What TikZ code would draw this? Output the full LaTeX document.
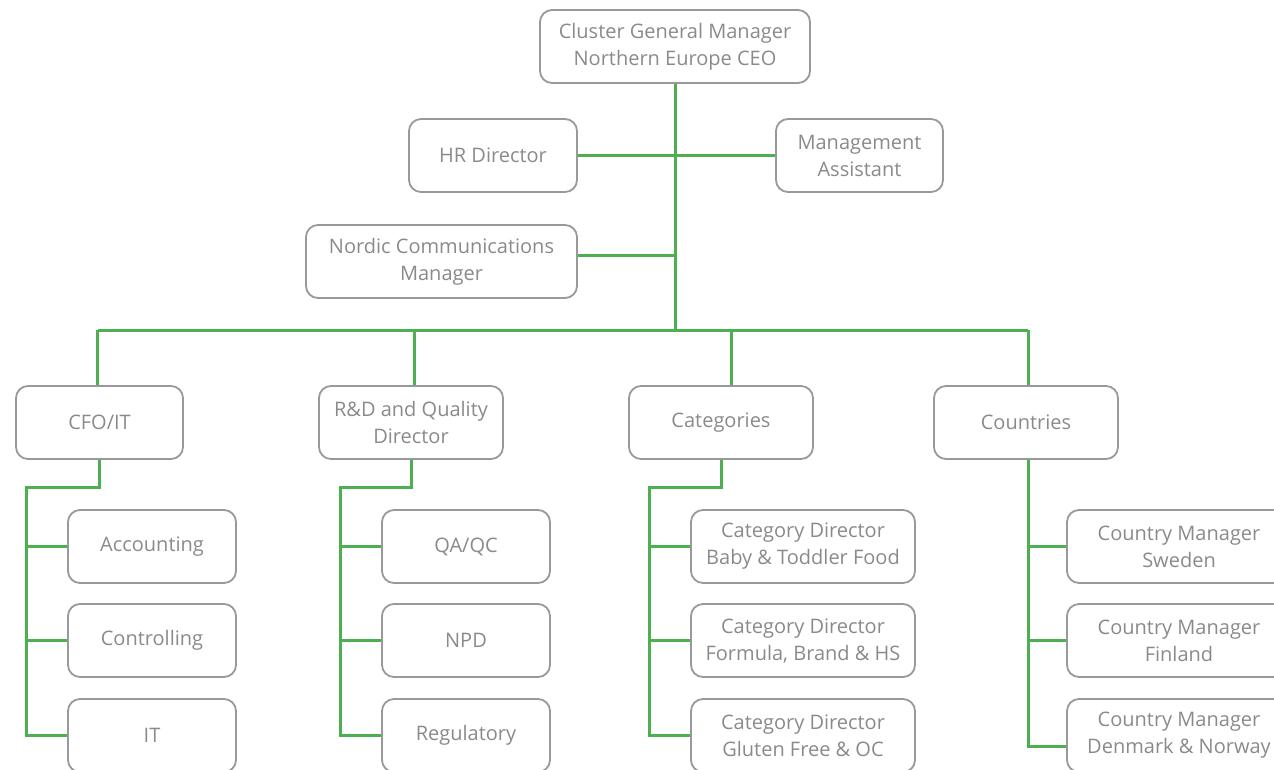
\documentclass[tikz,border=0pt]{standalone}
\usepackage{fontspec}
\setmainfont{Open Sans}
\definecolor{boxgray}{HTML}{999999}
\definecolor{textgray}{HTML}{8A8A8A}
\definecolor{linegreen}{HTML}{4DAF4F}

\begin{document}
\begin{tikzpicture}[x=1pt,y=-1pt,
    every node/.style={font=\fontsize{20}{27}\selectfont, text=textgray},
    box/.style={draw=boxgray, line width=1.8pt, rounded corners=12pt, minimum height=73pt, align=center, inner sep=0pt},
    link/.style={draw=linegreen, line width=3pt}]
    % Page frame
    \useasboundingbox (0,0) rectangle (1274,769);
    \clip (0,0) rectangle (1274,769);

    % Top of the chart
    \node[box, minimum width=270pt] (ceo) at (675,46.5) {Cluster General Manager\\Northern Europe CEO};
    \node[box, minimum width=168pt] (hr) at (493,155.5) {HR Director};
    \node[box, minimum width=167pt] (ma) at (859.5,155.5) {Management\\Assistant};
    \node[box, minimum width=271pt] (ncm) at (441.5,261.5) {Nordic Communications\\Manager};

    % Bus to the four departments
    \coordinate (bus) at (676,330);

    % Departments
    \node[box, minimum width=167pt] (cfo) at (99.5,422.5) {CFO/IT};
    \node[box, minimum width=184pt] (rnd) at (411,422.5) {R\&D and Quality\\Director};
    \node[box, minimum width=184pt] (cat) at (721,422.5) {Categories};
    \node[box, minimum width=184pt] (cty) at (1026,422.5) {Countries};

    % Units below each department
    \node[box, minimum width=168pt] (acc) at (152,546.5) {Accounting};
    \node[box, minimum width=168pt] (ctl) at (152,640.5) {Controlling};
    \node[box, minimum width=168pt] (it)  at (152,735.5) {IT};

    \node[box, minimum width=168pt] (qa)  at (466,546.5) {QA/QC};
    \node[box, minimum width=168pt] (npd) at (466,640.5) {NPD};
    \node[box, minimum width=168pt] (reg) at (466,735.5) {Regulatory};

    \node[box, minimum width=224pt] (cdb) at (803,546.5) {Category Director\\Baby \& Toddler Food};
    \node[box, minimum width=224pt] (cdf) at (803,640.5) {Category Director\\Formula, Brand \& HS};
    \node[box, minimum width=224pt] (cdg) at (803,735.5) {Category Director\\Gluten Free \& OC};

    \node[box, minimum width=224pt] (cse) at (1179,546.5) {Country Manager\\Sweden};
    \node[box, minimum width=224pt] (cfi) at (1179,640.5) {Country Manager\\Finland};
    \node[box, minimum width=224pt] (cdn) at (1179,735.5) {Country Manager\\Denmark \& Norway};

    % Green connectors
    \draw[link] (ceo.south) -- (ceo.south |- bus);
    \draw[link] (hr.east) -- (ma.west);
    \draw[link] ([yshift=6pt]ncm.east) -- ([yshift=6pt]ncm.east -| bus);
    \draw[link] ([xshift=-2pt]cfo.north |- bus) -- ([xshift=2pt]cty.north |- bus);
    \foreach \n/\dx in {cfo/-2,rnd/3,cat/10,cty/2}
        \draw[link] ([xshift=\dx pt]\n.north |- bus) -- ([xshift=\dx pt]\n.north);

    \foreach \p/\a/\b/\c in {cfo/acc/ctl/it, rnd/qa/npd/reg, cat/cdb/cdf/cdg}{
        \draw[link] (\p.south) -- ++(0,28) -| ([xshift=-41pt]\c.west) -- (\c.west);
        \draw[link] ([xshift=-41pt]\a.west) -- (\a.west);
        \draw[link] ([xshift=-41pt]\b.west) -- (\b.west);
    }

    \draw[link] ([xshift=2pt]cty.south) |- ([yshift=-11pt]cdn.west);
    \draw[link] ([xshift=2pt]cty.south |- cse.west) -- (cse.west);
    \draw[link] ([xshift=2pt]cty.south |- cfi.west) -- (cfi.west);
\end{tikzpicture}
\end{document}
